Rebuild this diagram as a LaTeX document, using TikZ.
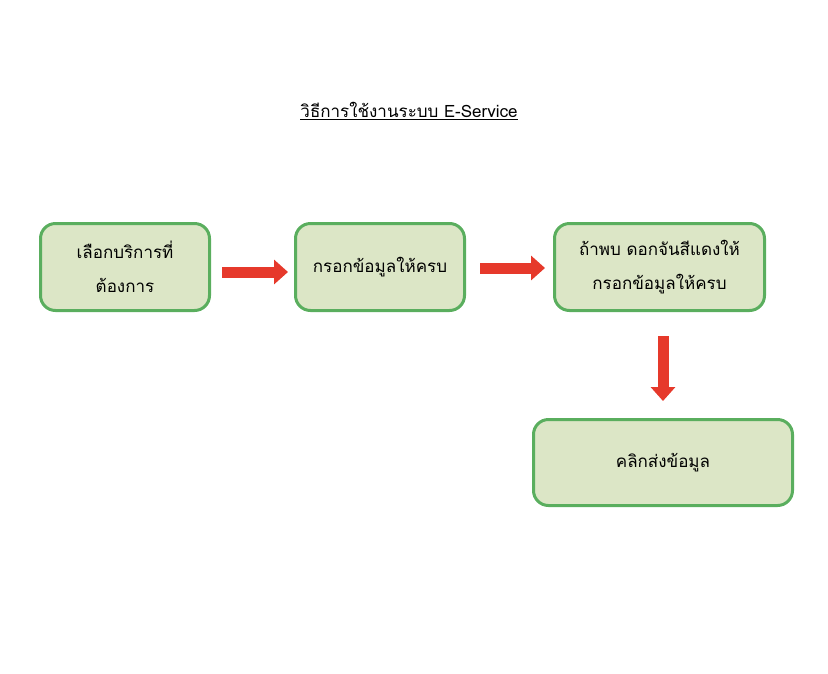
\documentclass[tikz,border=0pt]{standalone}
\usepackage{fontspec}
\usepackage{xcolor}
\usepackage{tikz}
\usetikzlibrary{arrows.meta}
\newfontfamily\thaifont[Script=Thai]{Loma}

\definecolor{boxfill}{HTML}{DCE6C6}
\definecolor{boxline}{HTML}{5AAE5E}
\definecolor{arrowred}{HTML}{E6392B}

\tikzset{
  stepbox/.style={draw=boxline, fill=boxfill, line width=3pt, rounded corners=15pt,
    align=center, font=\thaifont\fontsize{17}{34}\selectfont},
  flowarrow/.style={draw=arrowred, line width=11pt,
    -{Triangle[width=24pt, length=14pt]}}
}

\begin{document}
\begin{tikzpicture}[x=1pt, y=-1pt]
        \useasboundingbox (0,0) rectangle (828,673);
        % Nodes
        \node (title) at (409,111) {\thaifont\fontsize{17}{20}\selectfont\underline{วิธีการใช้งานระบบ E-Service}};
        \node (choose) [stepbox, minimum width=169pt, minimum height=87pt] at (125,267) {เลือกบริการที่\\ต้องการ};
        \node (fill) [stepbox, minimum width=169pt, minimum height=87pt] at (380,267) {กรอกข้อมูลให้ครบ};
        \node (check) [stepbox, minimum width=210pt, minimum height=87pt] at (659.5,267) {ถ้าพบ ดอกจันสีแดงให้\\กรอกข้อมูลให้ครบ};
        \node (send) [stepbox, minimum width=259pt, minimum height=86pt] at (663,462.5) {คลิกส่งข้อมูล};

        % Arrows
        \draw[flowarrow, shorten <=11pt, shorten >=6pt] ([yshift=-5pt]choose.east) -- ([yshift=-5pt]fill.west);
        \draw[flowarrow, shorten <=14pt, shorten >=8pt] ([yshift=-1pt]fill.east) -- ([yshift=-1pt]check.west);
        \draw[flowarrow, shorten <=24pt, shorten >=17pt] (send.north |- check.south) -- (send.north);
    \end{tikzpicture}
\end{document}
